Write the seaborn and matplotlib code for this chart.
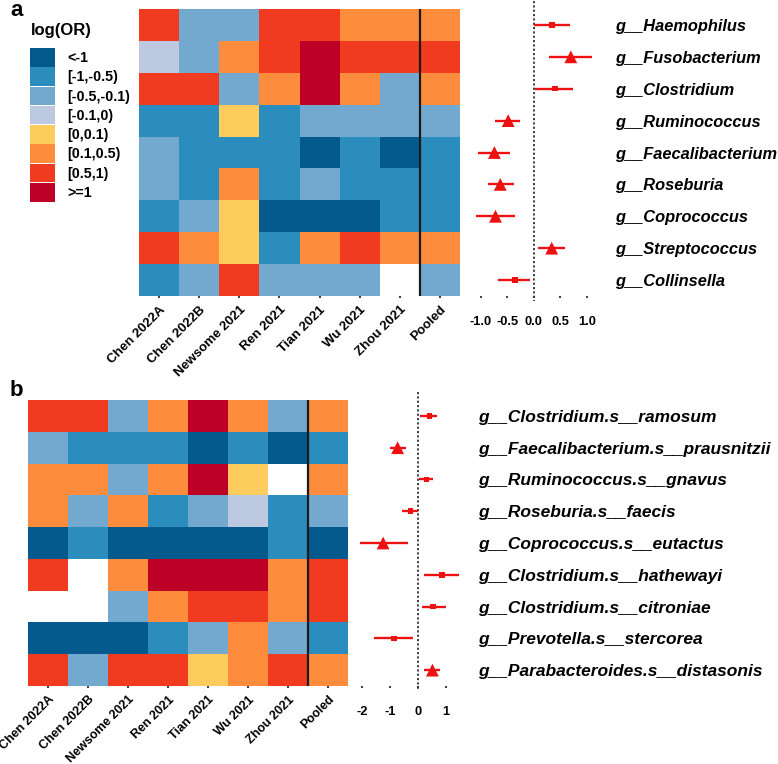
import numpy as np
import pandas as pd
import matplotlib
matplotlib.use("Agg")
from matplotlib import pyplot as plt
from matplotlib.colors import ListedColormap
from matplotlib.patches import Patch
import seaborn as sns

studies = ["Chen 2022A", "Chen 2022B", "Newsome 2021", "Ren 2021",
           "Tian 2021", "Wu 2021", "Zhou 2021", "Pooled"]
bins = ["<-1", "[-1,-0.5)", "[-0.5,-0.1)", "[-0.1,0)",
        "[0,0.1)", "[0.1,0.5)", "[0.5,1)", ">=1"]
bin_colors = ["#045a8d", "#2b8cbe", "#74a9cf", "#bdc9e1",
              "#fecc5c", "#fd8d3c", "#f03b20", "#bd0026"]

# panel a: genus level (bin index per study, None = missing)
genus = ["g__Haemophilus", "g__Fusobacterium", "g__Clostridium", "g__Ruminococcus",
         "g__Faecalibacterium", "g__Roseburia", "g__Coprococcus",
         "g__Streptococcus", "g__Collinsella"]
genus_bins = [
    [6, 2, 2, 6, 6, 5, 5, 5],
    [3, 2, 5, 6, 7, 6, 6, 6],
    [6, 6, 2, 5, 7, 5, 2, 5],
    [1, 1, 4, 1, 2, 2, 2, 2],
    [2, 1, 1, 1, 0, 1, 0, 1],
    [2, 1, 5, 1, 2, 1, 1, 1],
    [1, 2, 4, 0, 0, 0, 1, 1],
    [6, 5, 4, 1, 5, 6, 5, 5],
    [1, 2, 6, 2, 2, 2, None, 2],
]
genus_est = [0.35, 0.70, 0.40, -0.48, -0.74, -0.63, -0.72, 0.34, -0.35]
genus_lo = [0.00, 0.29, 0.03, -0.72, -1.05, -0.87, -1.08, 0.09, -0.67]
genus_hi = [0.68, 1.10, 0.75, -0.25, -0.44, -0.38, -0.35, 0.59, -0.06]
genus_sig = [False, True, False, True, True, True, True, True, False]

# panel b: species level
species = ["g__Clostridium.s__ramosum", "g__Faecalibacterium.s__prausnitzii",
           "g__Ruminococcus.s__gnavus", "g__Roseburia.s__faecis",
           "g__Coprococcus.s__eutactus", "g__Clostridium.s__hathewayi",
           "g__Clostridium.s__citroniae", "g__Prevotella.s__stercorea",
           "g__Parabacteroides.s__distasonis"]
species_bins = [
    [6, 6, 2, 5, 7, 5, 2, 5],
    [2, 1, 1, 1, 0, 1, 0, 1],
    [5, 5, 2, 5, 7, 4, None, 5],
    [5, 2, 5, 1, 2, 3, 1, 2],
    [0, 1, 0, 0, 0, 0, 1, 0],
    [6, None, 5, 7, 7, 7, 5, 6],
    [None, None, 2, 5, 6, 6, 5, 6],
    [0, 0, 0, 1, 2, 5, 2, 1],
    [6, 2, 6, 6, 4, 5, 6, 5],
]
species_est = [0.42, -0.72, 0.31, -0.25, -1.24, 0.88, 0.55, -0.84, 0.53]
species_lo = [0.09, -1.00, 0.05, -0.55, -2.08, 0.24, 0.15, -1.58, 0.24]
species_hi = [0.69, -0.43, 0.55, 0.00, -0.36, 1.50, 1.00, -0.15, 0.82]
species_sig = [False, True, False, False, True, False, False, False, True]

plt.rcParams["font.family"] = ["Liberation Sans", "DejaVu Sans"]
plt.rcParams["font.weight"] = "bold"

W, H = 778, 764
fig = plt.figure(figsize=(W / 100, H / 100), dpi=100)


def box(x0, y0, x1, y1):
    return [x0 / W, 1 - y1 / H, (x1 - x0) / W, (y1 - y0) / H]


cmap = ListedColormap(bin_colors)


def draw_heatmap(ax, names, cells, fs):
    df = pd.DataFrame([[np.nan if v is None else v for v in r] for r in cells],
                      index=names, columns=studies, dtype=float)
    sns.heatmap(df, ax=ax, cmap=cmap, vmin=-0.5, vmax=7.5, cbar=False,
                yticklabels=False)
    ax.axvline(7, color="#1a1a1a", lw=1.6)
    ax.set_xticklabels(studies, rotation=45, ha="right", rotation_mode="anchor",
                       fontsize=fs, fontweight="bold")
    ax.tick_params(axis="x", length=1.5, width=1.5, color="#444444", pad=4)
    ax.set_ylabel("")
    ax.set_xlabel("")


def draw_forest(ax, names, est, lo, hi, sig, xlim, ticks, ticklabels, pad, fs):
    n = len(names)
    y = np.arange(n) + 0.5
    d = pd.DataFrame({"est": est, "y": y, "sig": sig})
    ax.vlines(0, -0.25, n + 0.15, color="#333333", lw=1.3, ls=(0, (1.2, 1.2)),
              clip_on=False)
    ax.hlines(y, lo, hi, color="#ee1111", lw=1.7)
    sns.scatterplot(data=d[d["sig"]], x="est", y="y", marker="^", s=85,
                    color="#ee1111", edgecolor="none", ax=ax, legend=False)
    sns.scatterplot(data=d[~d["sig"]], x="est", y="y", marker="s", s=16,
                    color="#ee1111", edgecolor="none", ax=ax, legend=False)
    ax.set_xlim(*xlim)
    ax.set_ylim(n, 0)
    ax.set_xticks(ticks)
    ax.set_xticklabels(ticklabels, fontsize=9.3, fontweight="bold")
    ax.tick_params(axis="x", length=1.5, width=1.5, color="#444444", pad=13)
    ax.set_yticks(y)
    ax.set_yticklabels(names, fontsize=fs, fontweight="bold", style="italic")
    ax.tick_params(axis="y", left=False, right=False, labelleft=False,
                   labelright=True, length=0, pad=pad)
    for s in ax.spines.values():
        s.set_visible(False)
    ax.set_xlabel("")
    ax.set_ylabel("")
    ax.patch.set_alpha(0)


# panel a
ax_ha = fig.add_axes(box(139, 9, 460, 296))
draw_heatmap(ax_ha, genus, genus_bins, 9.5)
ax_fa = fig.add_axes(box(470, 9, 600, 296))
draw_forest(ax_fa, genus, genus_est, genus_lo, genus_hi, genus_sig,
            (-1.2, 1.25), [-1.0, -0.5, 0.0, 0.5, 1.0],
            ["-1.0", "-0.5", "0.0", "0.5", "1.0"], 10.5, 11.8)

# panel b
ax_hb = fig.add_axes(box(28, 400, 348, 686))
draw_heatmap(ax_hb, species, species_bins, 9.0)
ax_fb = fig.add_axes(box(355, 400, 465, 686))
draw_forest(ax_fb, species, species_est, species_lo, species_hi, species_sig,
            (-2.25, 1.7), [-2, -1, 0, 1], ["-2", "-1", "0", "1"], 9.5, 12.5)

# legend
fig.text(31 / W, 1 - 30 / H, "log(OR)", fontsize=12, fontweight="bold",
         va="center", ha="left")
handles = [Patch(facecolor=c, edgecolor="none") for c in bin_colors]
fig.legend(handles, bins, loc="upper left", bbox_to_anchor=(30 / W, 1 - 48 / H),
           frameon=False, borderpad=0, borderaxespad=0,
           handlelength=1.73, handleheight=1.62, labelspacing=0.05,
           handletextpad=0.86, prop={"weight": "bold", "size": 10.3})

fig.text(10 / W, 1 - 10 / H, "a", fontsize=16, fontweight="bold", va="center")
fig.text(10 / W, 1 - 390 / H, "b", fontsize=16, fontweight="bold", va="center")

fig.savefig("out.png", dpi=100)
